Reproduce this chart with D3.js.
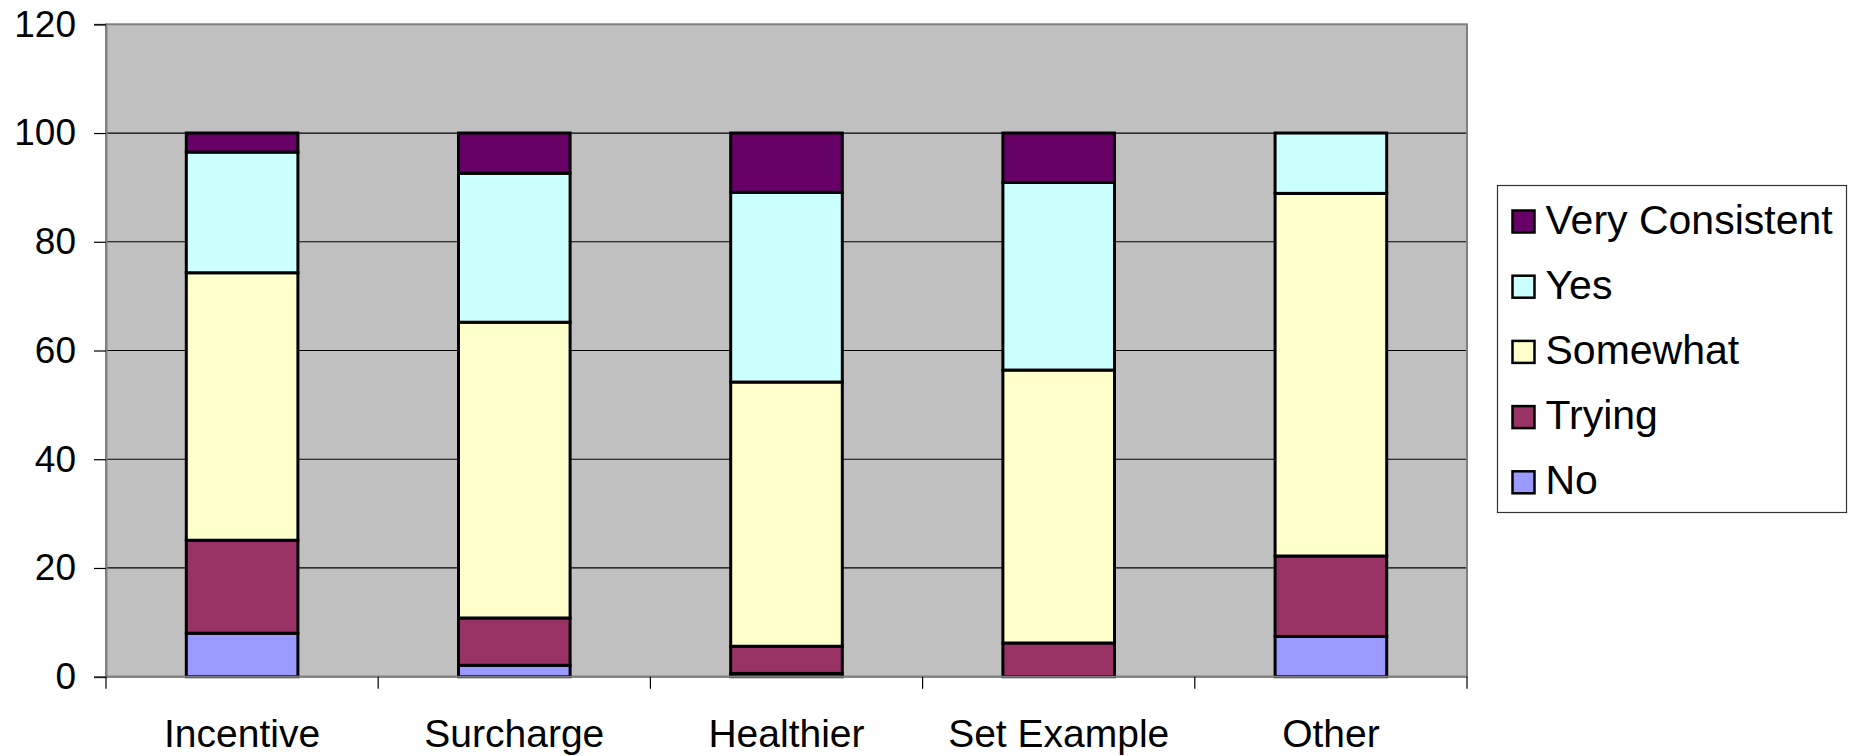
<!DOCTYPE html>
<html>
<head>
<meta charset="utf-8">
<script src="https://cdn.jsdelivr.net/npm/d3@7"></script>
<style>
  html, body { margin: 0; padding: 0; background: #ffffff; }
  svg { display: block; font-family: "Liberation Sans", Arial, sans-serif; }
</style>
</head>
<body>
<svg id="chart" width="1852" height="756"></svg>
<script>
// Response categories along the x axis
const categories = ["Incentive", "Surcharge", "Healthier", "Set Example", "Other"];

// Stacked series, bottom to top (percent of responses)
const seriesNames = ["No", "Trying", "Somewhat", "Yes", "Very Consistent"];
const noValues             = [8.0, 2.1, 0.6, 0.0, 7.4];
const tryingValues         = [17.1, 8.7, 5.0, 6.2, 14.8];
const somewhatValues       = [49.2, 54.4, 48.6, 50.2, 66.7];
const yesValues            = [22.2, 27.4, 34.9, 34.5, 11.1];
const veryConsistentValues = [3.5, 7.4, 10.9, 9.1, 0.0];

const seriesColors = ["#9999FF", "#993366", "#FFFFCC", "#CCFFFF", "#660066"];
const yTicks = [0, 20, 40, 60, 80, 100, 120];

const seriesValues = [noValues, tryingValues, somewhatValues, yesValues, veryConsistentValues];
const rows = categories.map((c, i) => {
  const r = { category: c };
  seriesNames.forEach((s, k) => { r[s] = seriesValues[k][i]; });
  return r;
});
const stacked = d3.stack().keys(seriesNames)(rows);

const svg = d3.select("#chart");
const plot = { left: 106, right: 1467, top: 24.3, bottom: 676.7 };

const x = d3.scaleBand().domain(categories).range([plot.left, plot.right]).paddingInner(0.59).paddingOuter(0.295);
const xBoundary = d3.scaleBand().domain(categories).range([plot.left, plot.right]).padding(0);
const y = d3.scaleLinear().domain([0, 120]).range([plot.bottom, plot.top]);
const color = d3.scaleOrdinal().domain(seriesNames).range(seriesColors);

// Plot background
svg.append("rect")
  .attr("x", plot.left).attr("y", plot.top)
  .attr("width", plot.right - plot.left).attr("height", plot.bottom - plot.top)
  .attr("fill", "#C0C0C0");

// Horizontal gridlines
svg.append("g").selectAll("line")
  .data(yTicks.filter(t => t > 0 && t < 120))
  .join("line")
  .attr("x1", plot.left).attr("x2", plot.right)
  .attr("y1", d => y(d)).attr("y2", d => y(d))
  .attr("stroke", "#000").attr("stroke-width", 1.2);

// Plot border
svg.append("rect")
  .attr("x", plot.left).attr("y", plot.top)
  .attr("width", plot.right - plot.left).attr("height", plot.bottom - plot.top)
  .attr("fill", "none").attr("stroke", "#808080").attr("stroke-width", 2);

// Stacked bars
svg.append("g").selectAll("g")
  .data(stacked)
  .join("g")
  .attr("fill", d => color(d.key))
  .selectAll("rect")
  .data(d => d.filter(p => p[1] - p[0] > 0))
  .join("rect")
  .attr("x", d => x(d.data.category))
  .attr("width", x.bandwidth())
  .attr("y", d => y(d[1]))
  .attr("height", d => y(d[0]) - y(d[1]))
  .attr("stroke", "#000")
  .attr("stroke-width", 3);

// Y axis
const yAxis = svg.append("g")
  .attr("transform", `translate(${plot.left},0)`)
  .call(d3.axisLeft(y).tickValues(yTicks).tickSize(12).tickPadding(18));
yAxis.select(".domain").attr("stroke", "#808080").attr("stroke-width", 2);
yAxis.selectAll(".tick line").attr("stroke", "#000").attr("stroke-width", 1.2);
yAxis.selectAll(".tick text").attr("font-size", 37).attr("fill", "#000")
  .attr("font-family", "Liberation Sans, Arial, sans-serif");

// X axis: ticks between categories, labels centred under bars
const xAxis = svg.append("g").attr("transform", `translate(0,${plot.bottom})`);
xAxis.append("line")
  .attr("x1", plot.left).attr("x2", plot.right)
  .attr("stroke", "#808080").attr("stroke-width", 2);
const boundaries = categories.map(c => xBoundary(c)).concat([plot.right]);
xAxis.selectAll("line.tick")
  .data(boundaries)
  .join("line")
  .attr("class", "tick")
  .attr("x1", d => d).attr("x2", d => d)
  .attr("y1", 0).attr("y2", 12)
  .attr("stroke", "#000").attr("stroke-width", 1.2);
xAxis.selectAll("text")
  .data(categories)
  .join("text")
  .attr("x", d => x(d) + x.bandwidth() / 2)
  .attr("y", 70)
  .attr("text-anchor", "middle")
  .attr("font-size", 39)
  .attr("fill", "#000")
  .text(d => d);

// Legend
const legend = svg.append("g").attr("transform", "translate(1497.5,185.5)");
legend.append("rect")
  .attr("width", 349).attr("height", 327)
  .attr("fill", "#fff").attr("stroke", "#333").attr("stroke-width", 1.2);
const legendOrder = seriesNames.slice().reverse();
const items = legend.selectAll("g.item")
  .data(legendOrder)
  .join("g")
  .attr("class", "item")
  .attr("transform", (d, i) => `translate(0,${i * 65.2})`);
items.append("rect")
  .attr("x", 15).attr("y", 25)
  .attr("width", 22).attr("height", 22)
  .attr("fill", d => color(d))
  .attr("stroke", "#000").attr("stroke-width", 2.5);
items.append("text")
  .attr("x", 48).attr("y", 48)
  .attr("font-size", 41)
  .attr("fill", "#000")
  .text(d => d);
</script>
</body>
</html>
